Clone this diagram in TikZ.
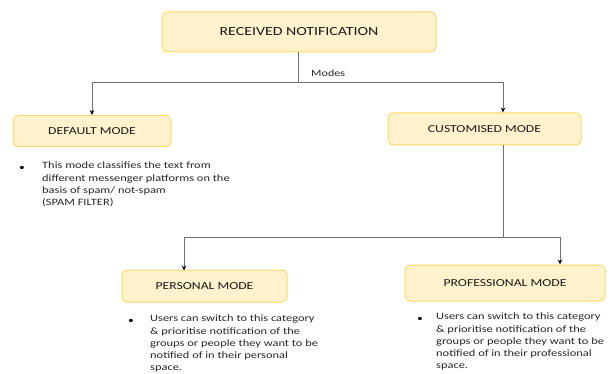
\documentclass[tikz,border=0pt]{standalone}
\usepackage{fontspec}
\setmainfont{Carlito}[FakeStretch=1.28]
\usepackage{tikz}
\usetikzlibrary{positioning,arrows.meta}
\definecolor{boxfill}{HTML}{FFF2CC}
\definecolor{boxline}{HTML}{FFD966}
\definecolor{wire}{HTML}{6F6F6F}

\begin{document}
\begin{tikzpicture}[
  x=1pt, y=-1pt,
  modebox/.style={draw=boxline, fill=boxfill, line width=1pt, rounded corners=5pt, align=center, font=\fontsize{10.7}{12}\selectfont, text=black!90},
  note/.style={anchor=north west, align=left, inner sep=0pt, font=\fontsize{9.7}{12.2}\selectfont, text=black!85},
  dot/.style={inner sep=0pt, font=\fontsize{9}{12}\selectfont},
  link/.style={draw=wire, line width=0.9pt},
  arr/.style={link, -{Stealth[length=5pt, width=4.5pt, color=black]}}
]
  \useasboundingbox (0,0) rectangle (612,374);

  % boxes
  \node[modebox, minimum width=274pt, minimum height=40pt, font=\fontsize{12.4}{14}\selectfont] (recv) at (299,32) {RECEIVED NOTIFICATION};
  \node[modebox, minimum width=158pt, minimum height=31pt] (default) at (92,131) {DEFAULT MODE};
  \node[modebox, minimum width=193pt, minimum height=32pt] (custom) at (484.5,129) {CUSTOMISED MODE};
  \node[modebox, minimum width=165pt, minimum height=32pt] (personal) at (204.5,286) {PERSONAL MODE};
  \node[modebox, minimum width=200pt, minimum height=36pt] (prof) at (505,283) {PROFESSIONAL MODE};

  % branch points
  \coordinate (split) at (298,82);
  \coordinate (split2) at (503,237);
  \node[note, anchor=west, font=\fontsize{9.5}{11}\selectfont] (modes) at (311,73) {Modes};

  \draw[link] (recv.south -| split) -- (split);
  \draw[arr] (split) -| (default.north -| 92,0);
  \draw[arr] (split) -| (custom.north -| 503,0);
  \draw[link] (custom.south -| split2) -- (split2);
  \draw[arr] (split2) -| ([yshift=-1pt]personal.north -| 184,0);
  \draw[arr] (split2) -| (prof.north -| 560,0);

  % notes
  \node[dot] (d1) at (22,168.5) {\textbullet};
  \node[note] (n1) at (42,162) {This mode classifies the text from\\different messenger platforms on the\\basis of spam/ not-spam\\(SPAM FILTER)};
  \node[dot] (d2) at (131,321.5) {\textbullet};
  \node[note] (n2) at (150,315) {Users can switch to this category\\\& prioritise notification of the\\groups or people they want to be\\notified of in their personal\\space.};
  \node[dot] (d3) at (420,319) {\textbullet};
  \node[note] (n3) at (436,313) {Users can switch to this category\\\& prioritise notification of the\\groups or people they want to be\\notified of in their professional\\space.};
\end{tikzpicture}
\end{document}
